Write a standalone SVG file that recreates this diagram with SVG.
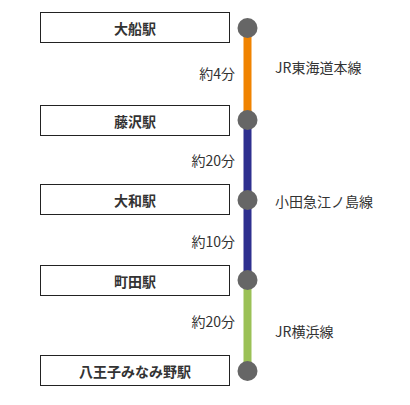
<svg xmlns="http://www.w3.org/2000/svg" width="410" height="405" viewBox="0 0 410 405">
<style>
.box{fill:#fff;stroke:#222;stroke-width:1}
.st{font-family:"Noto Sans CJK JP","Noto Sans",sans-serif;font-size:14px;font-weight:bold;fill:#333;text-anchor:middle;dominant-baseline:central}
.tm{font-family:"Noto Sans CJK JP","Noto Sans",sans-serif;font-size:14px;fill:#333;text-anchor:end;dominant-baseline:central}
.ln{font-family:"Noto Sans CJK JP","Noto Sans",sans-serif;font-size:14px;fill:#333;dominant-baseline:central}
.dot{fill:#666}
</style>
<g id="connectors">
<line x1="247.5" y1="28" x2="247.5" y2="120" stroke="#f08300" stroke-width="8"/>
<line x1="247.5" y1="120" x2="247.5" y2="280" stroke="#2e2f8f" stroke-width="8"/>
<line x1="247.5" y1="280" x2="247.5" y2="371" stroke="#9bc156" stroke-width="8"/>
<text class="tm" x="235" y="73">約4分</text>
<text class="tm" x="235" y="160">約20分</text>
<text class="tm" x="235" y="241">約10分</text>
<text class="tm" x="235" y="321">約20分</text>
<text class="ln" x="275" y="67">JR東海道本線</text>
<text class="ln" x="275" y="201">小田急江ノ島線</text>
<text class="ln" x="275" y="331">JR横浜線</text>
</g>
<g id="ofuna">
<rect class="box" x="40.5" y="12.5" width="189" height="30"/>
<text class="st" x="135" y="27.5">大船駅</text>
<circle class="dot" cx="247.5" cy="28" r="10"/>
</g>
<g id="fujisawa">
<rect class="box" x="40.5" y="105.5" width="189" height="30"/>
<text class="st" x="135" y="120.5">藤沢駅</text>
<circle class="dot" cx="247.5" cy="120" r="10"/>
</g>
<g id="yamato">
<rect class="box" x="40.5" y="184.5" width="189" height="30"/>
<text class="st" x="135" y="199.5">大和駅</text>
<circle class="dot" cx="247.5" cy="200" r="10"/>
</g>
<g id="machida">
<rect class="box" x="40.5" y="265.5" width="189" height="30"/>
<text class="st" x="135" y="280.5">町田駅</text>
<circle class="dot" cx="247.5" cy="280" r="10"/>
</g>
<g id="hachioji-minamino">
<rect class="box" x="40.5" y="355.5" width="189" height="30"/>
<text class="st" x="135" y="370.5">八王子みなみ野駅</text>
<circle class="dot" cx="247.5" cy="371" r="10"/>
</g>
</svg>
